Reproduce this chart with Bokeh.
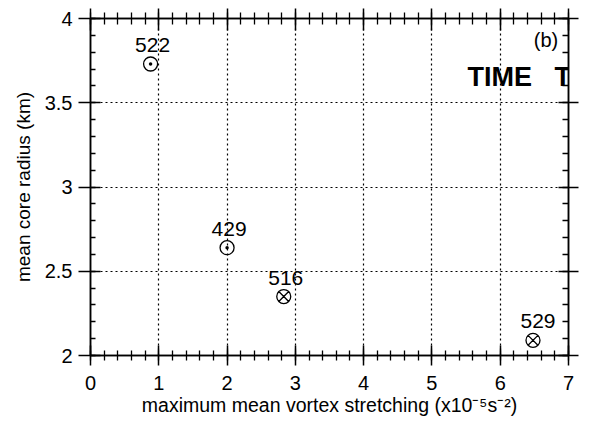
from bokeh.plotting import figure
from bokeh.models import LinearAxis, SingleIntervalTicker, Range1d, ColumnDataSource
from bokeh.core.properties import value
from bokeh.embed import file_html
from bokeh.resources import INLINE

# data
stretching = [0.88, 2.0, 2.83, 6.48]
radius = [3.73, 2.64, 2.35, 2.09]
case_labels = ["522", "429", "516", "529"]
markers = ["circle_dot", "circle_dot", "circle_x", "circle_x"]
label_dx = [2, 2, 2, 5]

x_ticks = [0, 1, 2, 3, 4, 5, 6, 7]
x_tick_labels = ["0", "1", "2", "3", "4", "5", "6", "7"]
y_ticks = [2, 2.5, 3, 3.5, 4]
y_tick_labels = ["2", "2.5", "3", "3.5", "4"]

FONT = "Liberation Sans"

p = figure(width=597, height=421, output_backend="svg", toolbar_location=None,
           x_range=Range1d(0, 7), y_range=Range1d(2, 4),
           min_border_left=90, min_border_right=29, min_border_top=18,
           min_border_bottom=66, x_axis_location=None, y_axis_location=None)
p.outline_line_color = "black"
p.outline_line_width = 1.5
p.background_fill_color = "white"
p.border_fill_color = "white"

def mk_axis(cls_loc, show_labels, tin, tout, min_in, min_out, ticker_int):
    ax = LinearAxis(ticker=SingleIntervalTicker(interval=ticker_int, num_minor_ticks=5))
    ax.axis_line_color = "black"
    ax.axis_line_width = 1.5
    ax.major_tick_line_color = "black"
    ax.major_tick_line_width = 1.5
    ax.minor_tick_line_color = "black"
    ax.minor_tick_line_width = 1.3
    ax.major_tick_in = tin
    ax.major_tick_out = tout
    ax.minor_tick_in = min_in
    ax.minor_tick_out = min_out
    ax.major_label_text_font = FONT
    ax.major_label_text_font_size = "20px"
    ax.major_label_text_color = "black"
    ax.axis_label_text_color = "black"
    if not show_labels:
        ax.major_label_text_font_size = "0px"
        ax.major_label_text_alpha = 0
    p.add_layout(ax, cls_loc)
    return ax

bottom = mk_axis("below", True, 10, 10, 5, 5, 1)
bottom.major_label_overrides = dict(zip(x_ticks, x_tick_labels))
bottom.major_label_standoff = 10
bottom.axis_label = "maximum mean vortex stretching (x10\u207b\u2075s\u207b\u00b2)"
bottom.axis_label_text_font = FONT
bottom.axis_label_text_font_size = "19.5px"
bottom.axis_label_text_font_style = "normal"
bottom.axis_label_standoff = 1

left = mk_axis("left", True, 10, 12, 5, 0, 0.5)
left.major_label_overrides = dict(zip(y_ticks, y_tick_labels))
left.major_label_standoff = 6
left.axis_label = "mean core radius (km)"
left.axis_label_text_font = FONT
left.axis_label_text_font_size = "19px"
left.axis_label_text_font_style = "normal"
left.axis_label_standoff = 8

mk_axis("above", False, 12, 10, 6, 6, 1)
mk_axis("right", False, 10, 10, 6, 0, 0.5)

p.xgrid.ticker = SingleIntervalTicker(interval=1)
p.ygrid.ticker = SingleIntervalTicker(interval=0.5)
for g in (p.xgrid, p.ygrid):
    g.grid_line_color = "black"
    g.grid_line_dash = "2 3"
    g.grid_line_width = 1.2

src = ColumnDataSource(dict(x=stretching, y=radius, lab=case_labels, m=markers, dx=label_dx))
p.scatter("x", "y", source=src, marker="m", size=14, fill_color=None,
          line_color="black", line_width=1.3)
p.text("x", "y", text="lab", source=src, x_offset="dx", y_offset=-12,
       text_align="center", text_baseline="bottom",
       text_font=value(FONT), text_font_size="21px", text_color="black")

p.text(x=[6.85], y=[3.875], text=["(b)"], text_align="right", text_baseline="middle",
       text_font=value(FONT), text_font_size="20px", text_color="black")
p.text(x=[5.52], y=[3.65], text=["TIME\u00a0\u00a0\u00a0T"], text_align="left",
       text_baseline="middle",
       text_font=value(FONT), text_font_size="27px", text_font_style="bold",
       text_color="black")

open("out.html", "w").write(file_html(p, INLINE))
